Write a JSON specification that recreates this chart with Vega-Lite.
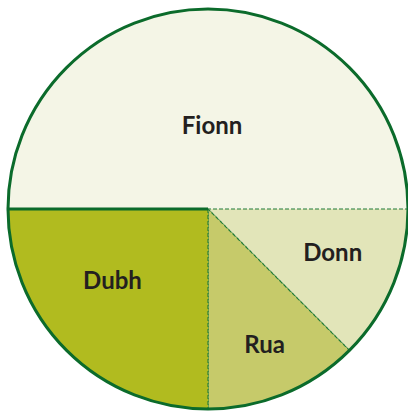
{
  "$schema": "https://vega.github.io/schema/vega-lite/v6.json",
  "autosize": {"type": "none"},
  "width": 416,
  "height": 418,
  "padding": 0,
  "background": "white",
  "view": {"stroke": null},
  "data": {
    "values": [
      {"name": "Fionn", "value": 50, "i": 1},
      {"name": "Donn", "value": 12.5, "i": 2},
      {"name": "Rua", "value": 12.5, "i": 3},
      {"name": "Dubh", "value": 25, "i": 4}
    ]
  },
  "encoding": {
    "theta": {"field": "value", "type": "quantitative", "stack": true, "scale": {"range": [-1.5707963, 4.712389]}},
    "order": {"field": "i", "type": "quantitative"}
  },
  "layer": [
    {
      "mark": {"type": "arc", "outerRadius": 200, "stroke": "#1f7a38", "strokeWidth": 1.1, "strokeDash": [4, 2]},
      "encoding": {
        "color": {
          "field": "name", "type": "nominal", "legend": null,
          "scale": {"domain": ["Fionn", "Donn", "Rua", "Dubh"], "range": ["#F4F5E6", "#E2E5B9", "#C6CA6A", "#B1BB1F"]}
        },
        "strokeOpacity": {"condition": {"test": "datum.name === 'Fionn'", "value": 0}, "value": 1}
      }
    },
    {
      "mark": {"type": "arc", "outerRadius": 200, "fill": null, "fillOpacity": 0, "stroke": "#0B6B2B", "strokeWidth": 3},
      "encoding": {
        "theta": {"aggregate": "sum", "field": "value", "type": "quantitative"},
        "order": null
      }
    },
    {
      "mark": {"type": "text", "radius": 82, "dx": 4, "font": "Lato", "fontWeight": "bold", "fontSize": 24, "fill": "#231F20", "align": "center", "baseline": "middle"},
      "encoding": {"text": {"condition": {"test": "datum.name === 'Fionn'", "field": "name"}, "value": ""}}
    },
    {
      "mark": {"type": "text", "radius": 135, "dy": -7, "font": "Lato", "fontWeight": "bold", "fontSize": 24, "fill": "#231F20", "align": "center", "baseline": "middle"},
      "encoding": {"text": {"condition": {"test": "datum.name === 'Donn'", "field": "name"}, "value": ""}}
    },
    {
      "mark": {"type": "text", "radius": 148, "font": "Lato", "fontWeight": "bold", "fontSize": 24, "fill": "#231F20", "align": "center", "baseline": "middle"},
      "encoding": {"text": {"condition": {"test": "datum.name === 'Rua'", "field": "name"}, "value": ""}}
    },
    {
      "mark": {"type": "text", "radius": 121, "dx": -10, "dy": -13, "font": "Lato", "fontWeight": "bold", "fontSize": 24, "fill": "#231F20", "align": "center", "baseline": "middle"},
      "encoding": {"text": {"condition": {"test": "datum.name === 'Dubh'", "field": "name"}, "value": ""}}
    }
  ]
}
